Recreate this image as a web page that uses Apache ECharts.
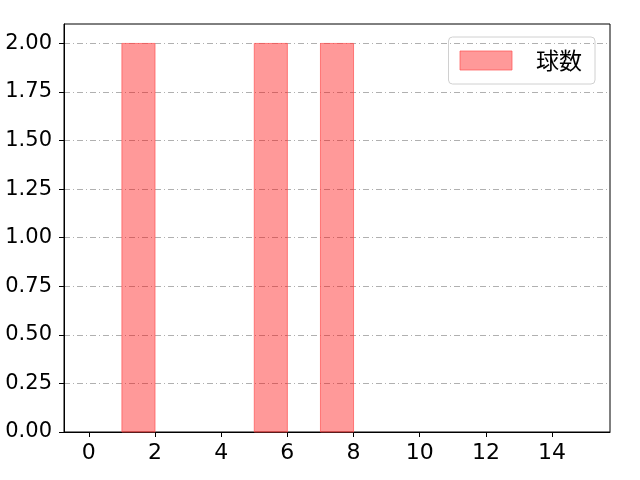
<!DOCTYPE html>
<html>
<head>
<meta charset="utf-8">
<script src="https://cdn.jsdelivr.net/npm/echarts@6/dist/echarts.min.js"></script>
<style>html,body{margin:0;padding:0;background:#fff}#c{width:640px;height:480px}</style>
</head>
<body>
<div id="c"></div>
<script>
const binStarts = [1, 5, 7];
const binEnds = [2, 6, 8];
const counts = [2, 2, 2];
const xTicks = [0, 2, 4, 6, 8, 10, 12, 14];
const seriesName = '球数';

const NUMFONT = '"DejaVu Sans", sans-serif';
const CJKFONT = '"Noto Sans CJK JP", sans-serif';
const data = binStarts.map((s, i) => [s, binEnds[i], counts[i]]);
const chart = echarts.init(document.getElementById('c'));
chart.setOption({
  animation: false,
  grid: {left: 64, right: 30, top: 24, bottom: 48, show: true, borderColor: '#000', borderWidth: 1, backgroundColor: 'transparent'},
  legend: {
    show: true, right: 45, top: 37, padding: [12, 13, 12, 11],
    borderColor: '#d0d0d0', borderWidth: 1, borderRadius: 4,
    itemWidth: 52, itemHeight: 19, itemGap: 10,
    textStyle: {fontFamily: CJKFONT, fontSize: 23, color: '#000', padding: [0, 0, 0, 19]},
    data: [{name: seriesName, icon: 'rect', itemStyle: {color: 'rgba(255,0,0,0.4)', borderColor: 'rgba(255,80,80,0.7)', borderWidth: 1}}]
  },
  xAxis: {
    type: 'value', min: -0.75, max: 15.75,
    axisLine: {show: true, onZero: false, lineStyle: {color: '#000'}},
    axisTick: {show: true, length: 5, lineStyle: {color: '#000'}, customValues: xTicks},
    axisLabel: {fontFamily: NUMFONT, fontSize: 22, color: '#000', margin: 10, customValues: xTicks},
    splitLine: {show: false}
  },
  yAxis: {
    type: 'value', min: 0, max: 2.1, interval: 0.25,
    axisLine: {show: true, onZero: false, lineStyle: {color: '#000'}},
    axisTick: {show: true, length: 5, lineStyle: {color: '#000'}},
    axisLabel: {fontFamily: NUMFONT, fontSize: 21, color: '#000', margin: 12, showMaxLabel: false,
      formatter: v => v.toFixed(2)},
    splitLine: {show: true, showMaxLine: false, showMinLine: false,
      lineStyle: {color: '#b0b0b0', width: 1, type: [6, 3, 1, 3]}}
  },
  series: [{
    type: 'custom', name: seriesName,
    encode: {x: [0, 1], y: 2},
    data: data,
    renderItem: function (params, api) {
      const p0 = api.coord([api.value(0), api.value(2)]);
      const p1 = api.coord([api.value(1), 0]);
      return {
        type: 'rect',
        shape: {x: p0[0], y: p0[1], width: p1[0] - p0[0], height: p1[1] - p0[1]},
        style: {fill: 'rgba(255,0,0,0.4)', stroke: 'rgba(255,80,80,0.7)', lineWidth: 1}
      };
    },
    itemStyle: {color: 'rgba(255,0,0,0.4)'}
  }]
});
</script>
</body>
</html>
